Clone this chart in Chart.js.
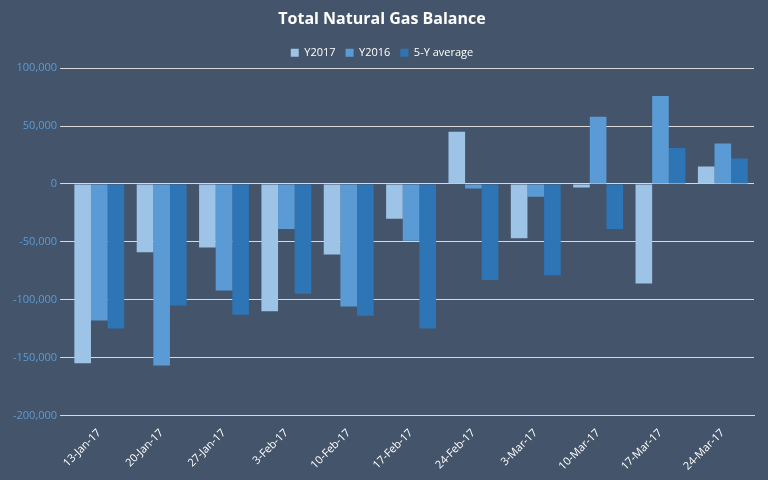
<!DOCTYPE html>
<html>
<head>
<script src="https://cdn.jsdelivr.net/npm/chart.js@4"></script>
<style>
  body { margin: 0; background: #44546a; }
  #wrap { width: 768px; height: 480px; }
</style>
</head>
<body>
<div id="wrap"><canvas id="c"></canvas></div>
<script>
const categories = ["13-Jan-17", "20-Jan-17", "27-Jan-17", "3-Feb-17", "10-Feb-17", "17-Feb-17",
  "24-Feb-17", "3-Mar-17", "10-Mar-17", "17-Mar-17", "24-Mar-17"];
const y2017 = [-155000, -59000, -55000, -110000, -61000, -30000, 45000, -47000, -3000, -86000, 15000];
const y2016 = [-118000, -157000, -92000, -39000, -106000, -49000, -4000, -11000, 58000, 76000, 35000];
const avg5y = [-125000, -105000, -113000, -95000, -114000, -125000, -83000, -79000, -39000, 31000, 22000];

const font = { family: "Open Sans", size: 11 };

new Chart(document.getElementById("c"), {
  type: "bar",
  data: {
    labels: categories,
    datasets: [
      { label: "Y2017", data: y2017, backgroundColor: "#9dc3e6" },
      { label: "Y2016", data: y2016, backgroundColor: "#5b9bd5" },
      { label: "5-Y average", data: avg5y, backgroundColor: "#2e75b6" }
    ]
  },
  options: {
    responsive: true,
    maintainAspectRatio: false,
    animation: false,
    layout: { padding: { left: 10, right: 14, bottom: 4 } },
    datasets: { bar: { categoryPercentage: 0.8, barPercentage: 1.0 } },
    plugins: {
      title: { display: true, text: "Total Natural Gas Balance", color: "#ffffff",
        font: { family: "Open Sans", size: 16 }, padding: { top: 10, bottom: 8 } },
      legend: { labels: { color: "#ffffff", font, boxWidth: 8, boxHeight: 8 } }
    },
    scales: {
      x: {
        grid: { display: false },
        border: { color: "#d9d9d9" },
        ticks: { color: "#ffffff", font, maxRotation: 45, minRotation: 45 }
      },
      y: {
        min: -200000, max: 100000,
        grid: { color: "#d9d9d9" },
        border: { display: false },
        ticks: { stepSize: 50000, color: "#5b9bd5", font,
          callback: v => v.toLocaleString("en-US") }
      }
    }
  }
});
</script>
</body>
</html>
